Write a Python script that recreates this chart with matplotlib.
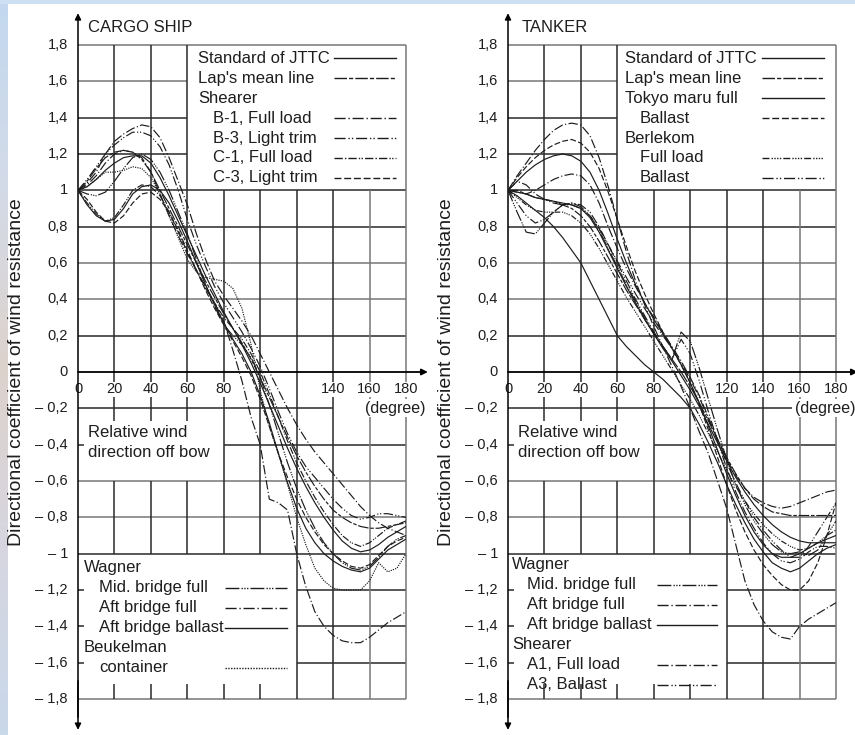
import numpy as np
import matplotlib.pyplot as plt
from matplotlib.colors import LinearSegmentedColormap

plt.rcParams['font.family'] = ['Liberation Sans', 'DejaVu Sans']

# relative wind direction off bow (degree)
angle = np.arange(0, 181, 5)

# ---- CARGO SHIP ----
cargo_jttc = [1.00, 1.02, 1.06, 1.11, 1.15, 1.18, 1.19, 1.19, 1.15, 1.07, 0.97, 0.86, 0.75, 0.64, 0.53, 0.43, 0.33, 0.24, 0.15,
              0.05, -0.06, -0.18, -0.30, -0.42, -0.53, -0.63, -0.72, -0.80, -0.87, -0.93, -0.97, -0.99, -0.98, -0.95, -0.91, -0.88, -0.85]
cargo_lap = [1.00, 1.05, 1.12, 1.18, 1.21, 1.22, 1.21, 1.17, 1.10, 1.00, 0.90, 0.80, 0.70, 0.60, 0.50, 0.41, 0.32, 0.24, 0.16,
             0.07, -0.03, -0.14, -0.25, -0.36, -0.46, -0.55, -0.63, -0.70, -0.76, -0.80, -0.83, -0.85, -0.86, -0.86, -0.85, -0.84, -0.83]
cargo_b1 = [1.00, 1.04, 1.10, 1.20, 1.27, 1.31, 1.34, 1.36, 1.35, 1.29, 1.18, 1.05, 0.92, 0.76, 0.62, 0.50, 0.42, 0.35, 0.28,
            0.20, 0.10, 0.00, -0.10, -0.20, -0.29, -0.37, -0.44, -0.50, -0.56, -0.62, -0.68, -0.74, -0.79, -0.83, -0.86, -0.88, -0.90]
cargo_b3 = [1.00, 1.06, 1.13, 1.20, 1.25, 1.29, 1.32, 1.32, 1.30, 1.24, 1.14, 1.00, 0.84, 0.70, 0.58, 0.47, 0.38, 0.30, 0.22,
            0.13, 0.03, -0.09, -0.22, -0.34, -0.44, -0.52, -0.58, -0.64, -0.70, -0.75, -0.79, -0.81, -0.80, -0.78, -0.78, -0.79, -0.80]
cargo_c1 = [1.00, 0.93, 0.87, 0.83, 0.85, 0.92, 1.00, 1.03, 1.02, 0.97, 0.88, 0.77, 0.66, 0.56, 0.46, 0.38, 0.30, 0.24, 0.18,
            0.10, 0.00, -0.12, -0.25, -0.38, -0.50, -0.60, -0.69, -0.77, -0.84, -0.90, -0.94, -0.96, -0.94, -0.90, -0.86, -0.84, -0.82]
cargo_c3 = [1.00, 0.95, 0.88, 0.83, 0.82, 0.86, 0.93, 0.98, 0.99, 0.95, 0.88, 0.78, 0.67, 0.56, 0.45, 0.35, 0.26, 0.17, 0.08,
            -0.02, -0.15, -0.30, -0.45, -0.58, -0.70, -0.80, -0.88, -0.95, -1.00, -1.04, -1.07, -1.08, -1.06, -1.01, -0.96, -0.93, -0.91]
cargo_mid_full = [1.00, 0.98, 0.97, 0.99, 1.05, 1.12, 1.18, 1.20, 1.17, 1.10, 1.00, 0.88, 0.76, 0.62, 0.48, 0.36, 0.26, 0.20, 0.15,
                  0.08, -0.03, -0.18, -0.34, -0.50, -0.64, -0.76, -0.86, -0.94, -1.00, -1.05, -1.08, -1.09, -1.07, -1.02, -0.96, -0.92, -0.90]
cargo_aft_full = [1.00, 1.03, 1.08, 1.15, 1.20, 1.22, 1.21, 1.18, 1.10, 0.98, 0.86, 0.75, 0.65, 0.56, 0.47, 0.38, 0.28, 0.12, -0.05,
                  -0.25, -0.40, -0.70, -0.72, -0.76, -1.00, -1.18, -1.32, -1.40, -1.45, -1.48, -1.49, -1.49, -1.46, -1.42, -1.38, -1.35, -1.32]
cargo_aft_ballast = [1.00, 0.92, 0.86, 0.83, 0.84, 0.90, 0.98, 1.02, 1.03, 1.00, 0.93, 0.83, 0.72, 0.60, 0.48, 0.37, 0.27, 0.18, 0.10,
                     0.00, -0.13, -0.28, -0.45, -0.61, -0.75, -0.86, -0.94, -1.00, -1.04, -1.07, -1.09, -1.10, -1.08, -1.03, -0.98, -0.95, -0.92]
cargo_beukelman = [1.00, 1.02, 1.06, 1.10, 1.10, 1.11, 1.13, 1.12, 1.07, 0.98, 0.86, 0.74, 0.62, 0.55, 0.52, 0.51, 0.50, 0.46, 0.35,
                   0.15, -0.10, -0.30, -0.45, -0.62, -0.80, -0.95, -1.08, -1.15, -1.19, -1.20, -1.20, -1.20, -1.15, -1.05, -1.10, -1.08, -1.00]

# ---- TANKER ----
tank_jttc = [1.00, 0.99, 0.98, 0.96, 0.95, 0.94, 0.93, 0.92, 0.90, 0.85, 0.77, 0.67, 0.57, 0.47, 0.38, 0.29, 0.21, 0.13, 0.06,
             -0.02, -0.10, -0.19, -0.29, -0.39, -0.49, -0.58, -0.66, -0.73, -0.79, -0.84, -0.88, -0.91, -0.93, -0.94, -0.94, -0.94, -0.94]
tank_lap = [1.00, 1.00, 0.98, 0.96, 0.95, 0.94, 0.92, 0.90, 0.86, 0.80, 0.72, 0.63, 0.54, 0.45, 0.37, 0.29, 0.21, 0.14, 0.07,
            0.00, -0.08, -0.17, -0.27, -0.37, -0.47, -0.56, -0.64, -0.70, -0.74, -0.77, -0.78, -0.79, -0.79, -0.79, -0.79, -0.79, -0.79]
tank_tokyo_full = [1.00, 1.05, 1.10, 1.14, 1.17, 1.19, 1.20, 1.19, 1.16, 1.10, 1.00, 0.87, 0.73, 0.60, 0.48, 0.38, 0.29, 0.21, 0.13,
                   0.04, -0.06, -0.17, -0.30, -0.43, -0.56, -0.68, -0.79, -0.88, -0.95, -1.00, -1.02, -1.02, -1.00, -0.97, -0.94, -0.92, -0.90]
tank_tokyo_ballast = [1.00, 1.07, 1.13, 1.18, 1.22, 1.25, 1.27, 1.28, 1.26, 1.21, 1.12, 0.99, 0.84, 0.69, 0.55, 0.43, 0.32, 0.22, 0.13,
                      0.04, -0.06, -0.18, -0.32, -0.47, -0.62, -0.76, -0.88, -0.98, -1.06, -1.12, -1.17, -1.20, -1.20, -1.15, -1.05, -0.90, -0.72]
tank_berlekom_full = [1.00, 0.96, 0.92, 0.89, 0.88, 0.88, 0.88, 0.86, 0.82, 0.76, 0.68, 0.59, 0.50, 0.41, 0.33, 0.25, 0.17, 0.09, 0.01,
                      -0.07, -0.15, -0.24, -0.34, -0.44, -0.54, -0.63, -0.71, -0.78, -0.84, -0.89, -0.93, -0.96, -0.98, -0.97, -0.94, -0.90, -0.87]
tank_berlekom_ballast = [1.00, 0.93, 0.86, 0.82, 0.84, 0.88, 0.92, 0.93, 0.92, 0.88, 0.80, 0.70, 0.60, 0.50, 0.40, 0.31, 0.22, 0.14, 0.07,
                         0.18, 0.10, -0.05, -0.22, -0.38, -0.53, -0.66, -0.77, -0.86, -0.94, -1.00, -1.04, -1.05, -1.03, -0.99, -0.96, -0.96, -0.97]
tank_mid_full = [1.00, 0.88, 0.77, 0.76, 0.82, 0.88, 0.92, 0.93, 0.91, 0.86, 0.78, 0.68, 0.58, 0.48, 0.39, 0.30, 0.22, 0.14, 0.07,
                 0.22, 0.17, 0.02, -0.15, -0.32, -0.48, -0.62, -0.73, -0.82, -0.89, -0.95, -0.99, -1.00, -0.99, -1.01, -0.98, -0.90, -0.82]
tank_aft_full = [1.00, 1.08, 1.15, 1.22, 1.28, 1.33, 1.36, 1.37, 1.36, 1.30, 1.18, 1.02, 0.84, 0.66, 0.50, 0.37, 0.25, 0.14, 0.03,
                 -0.08, -0.20, -0.33, -0.45, -0.60, -0.75, -0.95, -1.15, -1.28, -1.37, -1.43, -1.46, -1.47, -1.40, -1.36, -1.33, -1.30, -1.27]
tank_aft_ballast = [1.00, 0.97, 0.93, 0.89, 0.85, 0.80, 0.74, 0.67, 0.60, 0.50, 0.40, 0.30, 0.20, 0.14, 0.09, 0.04, 0.00, -0.04, -0.09,
                    -0.14, -0.20, -0.29, -0.39, -0.50, -0.62, -0.73, -0.83, -0.92, -0.99, -1.05, -1.08, -1.10, -1.08, -1.04, -1.00, -0.97, -0.95]
tank_a1 = [1.00, 0.99, 0.98, 1.00, 1.03, 1.06, 1.08, 1.09, 1.08, 1.03, 0.93, 0.80, 0.68, 0.57, 0.47, 0.38, 0.30, 0.22, 0.14,
           0.06, -0.03, -0.13, -0.25, -0.37, -0.48, -0.57, -0.64, -0.69, -0.72, -0.74, -0.75, -0.74, -0.72, -0.70, -0.68, -0.66, -0.65]
tank_a3 = [1.00, 1.05, 1.03, 0.98, 0.95, 0.93, 0.92, 0.92, 0.90, 0.86, 0.79, 0.70, 0.61, 0.52, 0.43, 0.35, 0.27, 0.20, 0.13,
           0.05, -0.04, -0.14, -0.26, -0.38, -0.50, -0.61, -0.71, -0.80, -0.87, -0.93, -0.98, -1.02, -1.02, -0.96, -0.88, -0.80, -0.72]

y_ticks = [1.8, 1.6, 1.4, 1.2, 1.0, 0.8, 0.6, 0.4, 0.2, 0, -0.2, -0.4, -0.6, -0.8, -1.0, -1.2, -1.4, -1.6, -1.8]
y_labels = ['1,8', '1,6', '1,4', '1,2', '1', '0,8', '0,6', '0,4', '0,2', '0',
            '\u2013 0,2', '\u2013 0,4', '\u2013 0,6', '\u2013 0,8', '\u2013 1',
            '\u2013 1,2', '\u2013 1,4', '\u2013 1,6', '\u2013 1,8']
cargo_xticks = [0, 20, 40, 60, 80, 140, 160, 180]
tank_xticks = [0, 20, 40, 60, 80, 120, 140, 160, 180]

# line styles
SOLID = '-'
LAP = (0, (9, 1.5, 3, 1.5))
DASHDOT = (0, (8, 2, 1, 2))
DASHDOTDOT = (0, (8, 2, 1, 1.5, 1, 2))
C1STYLE = (0, (6, 1.5, 1, 1.5, 6, 1.5, 1, 1, 1, 1.5))
DASHED = (0, (5, 2))
MIDSTYLE = (0, (10, 1.5, 1, 1, 1, 1, 1, 1.5))
DOTTED = (0, (1, 1))
BERL = (0, (5, 1.5, 1, 1, 1, 1, 1, 1, 1, 1.5))

cargo_series = [
    (cargo_jttc, SOLID), (cargo_lap, LAP), (cargo_b1, DASHDOT), (cargo_b3, DASHDOTDOT),
    (cargo_c1, C1STYLE), (cargo_c3, DASHED), (cargo_mid_full, MIDSTYLE),
    (cargo_aft_full, DASHDOT), (cargo_aft_ballast, SOLID), (cargo_beukelman, DOTTED),
]
tank_series = [
    (tank_jttc, SOLID), (tank_lap, LAP), (tank_tokyo_full, SOLID), (tank_tokyo_ballast, DASHED),
    (tank_berlekom_full, BERL), (tank_berlekom_ballast, DASHDOTDOT), (tank_mid_full, MIDSTYLE),
    (tank_aft_full, DASHDOT), (tank_aft_ballast, SOLID), (tank_a1, DASHDOT), (tank_a3, DASHDOTDOT),
]

GRID = '#2a2a2a'
LW = 1.1
CURVE = '#1c1c1c'
TXT = '#1e1e1e'


def seg(ax, xs, ys, color=GRID, lw=LW):
    ax.plot(xs, ys, color=color, lw=lw, clip_on=False, zorder=1, solid_capstyle='butt')


def draw_frame(ax, xticks, deg_end, title, title_x):
    ax.set_xlim(0, 180)
    ax.set_ylim(-1.8, 1.8)
    ax.axis('off')
    # horizontal grid pieces
    seg(ax, [0, 180], [1.8, 1.8], color='#777777')
    for y in [1.6, 1.4, 1.2]:
        seg(ax, [0, 60], [y, y], color='#777777' if y == 1.6 else GRID)
    for y in [1.0, 0.8, 0.6, 0.4, 0.2, -0.6, -0.8, -1.0, -1.8]:
        seg(ax, [0, 180], [y, y], color='#777777' if y in (0.6, 0.4, -0.6, -0.8, -1.8) else GRID)
    seg(ax, [0, deg_end], [-0.2, -0.2])
    seg(ax, [80, 180], [-0.4, -0.4])
    for y in [-1.2, -1.4, -1.6]:
        seg(ax, [120, 180], [y, y])
    for y in [-0.4, -1.2, -1.4, -1.6]:
        seg(ax, [0, 3.5], [y, y])
    # vertical grid pieces
    for x in [20, 40, 60]:
        seg(ax, [x, x], [-0.27, 1.8])
        seg(ax, [x, x], [-1.0, -0.6])
        seg(ax, [x, x], [-1.8, -1.72])
    for x in [80, 100]:
        seg(ax, [x, x], [-1.0, 1.0])
        seg(ax, [x, x], [-1.8, -1.72])
    for x in [120, 140]:
        seg(ax, [x, x], [-1.8, 1.0])
    seg(ax, [160, 160], [-1.8, 1.0], color='#777777')
    seg(ax, [180, 180], [-1.8, 1.8], color='#777777')
    # axes with arrows
    ax.annotate('', xy=(0, 1.975), xytext=(0, -1.9), annotation_clip=False,
                arrowprops=dict(arrowstyle='-|>', color='black', lw=1.1, mutation_scale=9, shrinkA=0, shrinkB=0))
    ax.annotate('', xy=(0, -1.97), xytext=(0, -1.7), annotation_clip=False,
                arrowprops=dict(arrowstyle='-|>', color='black', lw=1.1, mutation_scale=9, shrinkA=0, shrinkB=0))
    ax.annotate('', xy=(192, 0), xytext=(0, 0), annotation_clip=False,
                arrowprops=dict(arrowstyle='-|>', color='black', lw=1.3, mutation_scale=9, shrinkA=0, shrinkB=0))
    # tick labels
    for y, lab in zip(y_ticks, y_labels):
        ax.text(-5.5, y, lab, ha='right', va='center', fontsize=10.5, color=TXT, clip_on=False)
    for x in xticks:
        ax.text(x, -0.095, str(x), ha='center', va='center', fontsize=10.5, color=TXT, zorder=2,
                bbox=dict(facecolor='white', edgecolor='none', pad=0.5))
    ax.text(174, -0.2, '(degree)', ha='center', va='center', fontsize=11.5, color=TXT, zorder=2,
            clip_on=False, bbox=dict(facecolor='white', edgecolor='none', pad=1.0))
    ax.text(title_x, 1.894, title, ha='left', va='center', fontsize=12, color=TXT, clip_on=False)
    ax.text(-33.5, 0.0, 'Directional coefficient of wind resistance', rotation=90, ha='center', va='center',
            fontsize=14, color=TXT, clip_on=False)
    ax.text(5.5, -0.335, 'Relative wind', ha='left', va='center', fontsize=12, color=TXT)
    ax.text(5.5, -0.445, 'direction off bow', ha='left', va='center', fontsize=12, color=TXT)


def draw_key(ax, rows, x_text, x_indent, x_line):
    for label, y, indent, style in rows:
        ax.text(x_indent if indent else x_text, y, label, ha='left', va='center', fontsize=12,
                color=TXT, clip_on=False)
        if style is not None:
            ax.plot(x_line, [y, y], color=CURVE, lw=1.0, ls=style, clip_on=False, zorder=3)


fig = plt.figure(figsize=(8.55, 7.35), dpi=100)

# scanned-page frame: light blue band on top, tinted strip on the left
strip = fig.add_axes([0, 0, 7 / 855, 1])
cmap = LinearSegmentedColormap.from_list('strip', ['#c3d8ef', '#d3dbe8', '#ddd2cc', '#d6d6e0', '#c9d8ea'])
strip.imshow(np.linspace(0, 1, 200).reshape(-1, 1), aspect='auto', cmap=cmap)
strip.axis('off')
fig.patches.append(plt.Rectangle((0, 1 - 4 / 735), 1, 4 / 735, transform=fig.transFigure,
                                 facecolor='#cde0f3', edgecolor='none'))

axL = fig.add_axes([78 / 855, 36 / 735, 328 / 855, 654 / 735])
axR = fig.add_axes([508 / 855, 36 / 735, 328 / 855, 654 / 735])

draw_frame(axL, cargo_xticks, 140, 'CARGO SHIP', 5.5)
draw_frame(axR, tank_xticks, 156, 'TANKER', 7.7)

for vals, style in cargo_series:
    axL.plot(angle, vals, color=CURVE, lw=0.85, ls=style, zorder=3)
for vals, style in tank_series:
    axR.plot(angle, vals, color=CURVE, lw=0.85, ls=style, zorder=3)

step = 0.110
draw_key(axL, [
    ('Standard of JTTC', 1.728, False, SOLID),
    ("Lap's mean line", 1.728 - step, False, LAP),
    ('Shearer', 1.728 - 2 * step, False, None),
    ('B-1, Full load', 1.728 - 3 * step, True, DASHDOT),
    ('B-3, Light trim', 1.728 - 4 * step, True, DASHDOTDOT),
    ('C-1, Full load', 1.728 - 5 * step, True, C1STYLE),
    ('C-3, Light trim', 1.728 - 6 * step, True, DASHED),
], 66, 74, [140.5, 174.5])
draw_key(axL, [
    ('Wagner', -1.078, False, None),
    ('Mid. bridge full', -1.078 - step, True, MIDSTYLE),
    ('Aft bridge full', -1.078 - 2 * step, True, DASHDOT),
    ('Aft bridge ballast', -1.078 - 3 * step, True, SOLID),
    ('Beukelman', -1.078 - 4 * step, False, None),
    ('container', -1.078 - 5 * step, True, DOTTED),
], 3.3, 11.5, [80.7, 114.7])

draw_key(axR, [
    ('Standard of JTTC', 1.728, False, SOLID),
    ("Lap's mean line", 1.728 - step, False, LAP),
    ('Tokyo maru full', 1.728 - 2 * step, False, SOLID),
    ('Ballast', 1.728 - 3 * step, True, DASHED),
    ('Berlekom', 1.728 - 4 * step, False, None),
    ('Full load', 1.728 - 5 * step, True, BERL),
    ('Ballast', 1.728 - 6 * step, True, DASHDOTDOT),
], 64.2, 72.5, [139.4, 173.4])
draw_key(axR, [
    ('Wagner', -1.062, False, None),
    ('Mid. bridge full', -1.062 - step, True, MIDSTYLE),
    ('Aft bridge full', -1.062 - 2 * step, True, DASHDOT),
    ('Aft bridge ballast', -1.062 - 3 * step, True, SOLID),
    ('Shearer', -1.062 - 4 * step, False, None),
    ('A1, Full load', -1.062 - 5 * step, True, DASHDOT),
    ('A3, Ballast', -1.062 - 6 * step, True, DASHDOTDOT),
], 2.2, 10.4, [81.8, 114.7])

fig.savefig('out.png', dpi=100)
